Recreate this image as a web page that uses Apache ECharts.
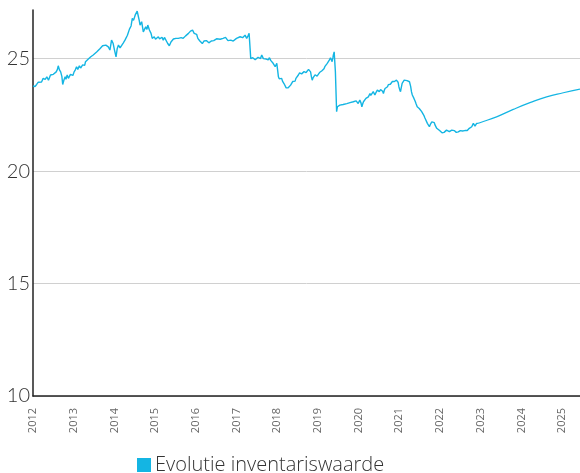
<!DOCTYPE html>
<html>
<head>
<meta charset="utf-8">
<script src="https://cdn.jsdelivr.net/npm/echarts@6/dist/echarts.min.js"></script>
<style>
  html, body { margin: 0; padding: 0; background: #fff; }
  #chart { width: 580px; height: 473px; }
</style>
</head>
<body>
<div id="chart"></div>
<script>
// Net asset value history: [decimal year, value]
const navHistory = [
  [2012.00, 23.78], [2012.05, 23.76], [2012.09, 23.85], [2012.13, 23.95], [2012.17, 24.00],
  [2012.21, 23.96], [2012.25, 24.12], [2012.30, 24.08], [2012.34, 24.19], [2012.38, 24.04],
  [2012.43, 24.27], [2012.47, 24.20], [2012.50, 24.30], [2012.54, 24.25], [2012.57, 24.41],
  [2012.60, 24.52], [2012.62, 24.68], [2012.65, 24.50], [2012.68, 24.41], [2012.71, 24.20],
  [2012.73, 23.85], [2012.76, 24.05], [2012.79, 24.19], [2012.81, 24.08], [2012.84, 24.27],
  [2012.87, 24.12], [2012.89, 24.19], [2012.92, 24.30], [2012.95, 24.34], [2012.98, 24.25],
  [2013.01, 24.41], [2013.04, 24.50], [2013.07, 24.64], [2013.10, 24.52], [2013.14, 24.68],
  [2013.17, 24.58], [2013.20, 24.64], [2013.22, 24.72], [2013.24, 24.79], [2013.27, 24.70],
  [2013.29, 24.86], [2013.33, 24.80], [2013.36, 24.98], [2013.39, 24.90], [2013.42, 25.08],
  [2013.45, 25.02], [2013.48, 25.16], [2013.52, 25.10], [2013.57, 25.30], [2013.61, 25.24],
  [2013.65, 25.45], [2013.68, 25.40], [2013.71, 25.57], [2013.75, 25.50], [2013.79, 25.60],
  [2013.82, 25.66], [2013.85, 25.52], [2013.89, 25.38], [2013.91, 25.60], [2013.93, 25.82],
  [2013.97, 25.67], [2014.00, 25.40], [2014.04, 25.08], [2014.07, 25.45], [2014.10, 25.60],
  [2014.14, 25.48], [2014.18, 25.52], [2014.22, 25.70], [2014.26, 25.82], [2014.29, 25.76],
  [2014.32, 26.04], [2014.35, 25.98], [2014.37, 26.31], [2014.41, 26.45], [2014.44, 26.79],
  [2014.47, 26.70], [2014.51, 26.93], [2014.54, 26.88], [2014.56, 27.11], [2014.59, 26.86],
  [2014.61, 26.70], [2014.63, 26.49], [2014.67, 26.64], [2014.71, 26.19], [2014.74, 26.30],
  [2014.77, 26.41], [2014.80, 26.30], [2014.82, 26.49], [2014.86, 26.27], [2014.90, 26.12],
  [2014.93, 25.90], [2014.98, 25.97], [2015.01, 25.86], [2015.04, 25.90], [2015.08, 25.97],
  [2015.11, 25.88], [2015.14, 25.90], [2015.17, 25.95], [2015.20, 25.82], [2015.23, 25.94],
  [2015.26, 25.90], [2015.31, 25.67], [2015.35, 25.57], [2015.39, 25.74], [2015.42, 25.68],
  [2015.45, 25.87], [2015.48, 25.82], [2015.51, 25.90], [2015.54, 25.85], [2015.57, 25.90],
  [2015.60, 25.96], [2015.64, 25.93], [2015.66, 25.86], [2015.69, 25.90], [2015.72, 25.96],
  [2015.75, 26.01], [2015.78, 26.08], [2015.82, 26.12], [2015.85, 26.18], [2015.87, 26.22],
  [2015.90, 26.15], [2015.92, 26.27], [2015.96, 26.12], [2016.00, 26.04], [2016.02, 26.08],
  [2016.05, 25.90], [2016.08, 25.84], [2016.10, 25.78], [2016.13, 25.72], [2016.16, 25.67],
  [2016.20, 25.78], [2016.23, 25.74], [2016.26, 25.80], [2016.29, 25.74], [2016.32, 25.70],
  [2016.35, 25.67], [2016.38, 25.78], [2016.41, 25.74], [2016.44, 25.80], [2016.47, 25.82],
  [2016.51, 25.88], [2016.55, 25.90], [2016.60, 25.86], [2016.64, 25.93], [2016.67, 25.90],
  [2016.70, 25.97], [2016.73, 25.94], [2016.76, 25.90], [2016.79, 25.80], [2016.82, 25.74],
  [2016.86, 25.82], [2016.89, 25.76], [2016.92, 25.78], [2016.96, 25.85], [2017.00, 25.90],
  [2017.04, 25.84], [2017.09, 25.97], [2017.12, 25.90], [2017.15, 25.93], [2017.18, 25.98],
  [2017.21, 26.04], [2017.25, 25.90], [2017.28, 26.00], [2017.31, 26.12], [2017.33, 26.04],
  [2017.35, 25.00], [2017.37, 24.93], [2017.40, 25.04], [2017.43, 25.00], [2017.46, 24.95],
  [2017.50, 25.00], [2017.53, 25.06], [2017.56, 25.08], [2017.59, 25.00], [2017.62, 25.16],
  [2017.66, 25.00], [2017.68, 25.06], [2017.70, 24.93], [2017.73, 24.98], [2017.76, 25.00],
  [2017.78, 24.94], [2017.81, 25.04], [2017.84, 24.92], [2017.86, 24.86], [2017.88, 24.90],
  [2017.90, 24.79], [2017.93, 24.72], [2017.95, 24.64], [2017.97, 24.70], [2017.99, 24.79],
  [2018.01, 24.50], [2018.03, 24.19], [2018.05, 24.10], [2018.07, 24.04], [2018.09, 24.16],
  [2018.11, 24.12], [2018.13, 24.00], [2018.15, 23.97], [2018.17, 23.88], [2018.19, 23.82],
  [2018.22, 23.70], [2018.25, 23.62], [2018.27, 23.70], [2018.30, 23.75], [2018.33, 23.82],
  [2018.36, 23.90], [2018.38, 23.98], [2018.41, 24.04], [2018.44, 24.00], [2018.46, 24.12],
  [2018.49, 24.20], [2018.52, 24.27], [2018.55, 24.36], [2018.58, 24.41], [2018.60, 24.32],
  [2018.63, 24.27], [2018.66, 24.42], [2018.68, 24.49], [2018.71, 24.38], [2018.74, 24.41],
  [2018.77, 24.52], [2018.79, 24.60], [2018.82, 24.41], [2018.84, 24.20], [2018.86, 24.04],
  [2018.88, 24.14], [2018.90, 24.19], [2018.93, 24.28], [2018.95, 24.34], [2018.98, 24.22],
  [2019.01, 24.27], [2019.04, 24.38], [2019.07, 24.34], [2019.10, 24.46], [2019.12, 24.41],
  [2019.15, 24.55], [2019.17, 24.64], [2019.20, 24.70], [2019.23, 24.79], [2019.26, 24.86],
  [2019.28, 24.93], [2019.31, 25.04], [2019.33, 24.95], [2019.35, 24.86], [2019.37, 25.05],
  [2019.38, 25.16], [2019.40, 25.30], [2019.43, 24.41], [2019.46, 22.64], [2019.48, 22.86],
  [2019.51, 22.90], [2019.54, 22.93], [2019.58, 22.90], [2019.62, 22.96], [2019.66, 22.94],
  [2019.71, 23.00], [2019.75, 22.97], [2019.79, 23.04], [2019.83, 23.00], [2019.87, 23.08],
  [2019.90, 23.14], [2019.94, 23.12], [2019.99, 23.00], [2020.03, 23.16], [2020.06, 23.02],
  [2020.08, 22.86], [2020.10, 22.98], [2020.12, 23.08], [2020.15, 23.16], [2020.18, 23.23],
  [2020.21, 23.18], [2020.24, 23.30], [2020.26, 23.38], [2020.28, 23.45], [2020.30, 23.36],
  [2020.32, 23.30], [2020.34, 23.42], [2020.36, 23.53], [2020.38, 23.46], [2020.40, 23.38],
  [2020.43, 23.50], [2020.46, 23.60], [2020.49, 23.55], [2020.51, 23.53], [2020.54, 23.62],
  [2020.57, 23.67], [2020.59, 23.55], [2020.61, 23.45], [2020.63, 23.58], [2020.65, 23.67],
  [2020.68, 23.70], [2020.71, 23.75], [2020.73, 23.84], [2020.75, 23.90], [2020.78, 23.86],
  [2020.81, 23.93], [2020.83, 23.98], [2020.85, 24.04], [2020.88, 23.98], [2020.90, 23.93],
  [2020.93, 24.04], [2020.95, 24.12], [2020.97, 23.95], [2020.99, 23.75], [2021.01, 23.62],
  [2021.03, 23.53], [2021.05, 23.72], [2021.07, 23.90], [2021.10, 23.96], [2021.12, 24.04],
  [2021.14, 24.08], [2021.16, 24.12], [2021.19, 24.02], [2021.21, 24.04], [2021.23, 24.00],
  [2021.25, 23.97], [2021.28, 23.75], [2021.30, 23.52], [2021.32, 23.38], [2021.34, 23.30],
  [2021.36, 23.23], [2021.39, 23.10], [2021.41, 23.00], [2021.44, 22.86], [2021.47, 22.84],
  [2021.49, 22.78], [2021.52, 22.70], [2021.55, 22.64], [2021.58, 22.56], [2021.61, 22.45],
  [2021.63, 22.36], [2021.66, 22.30], [2021.69, 22.12], [2021.72, 22.04], [2021.74, 21.97],
  [2021.77, 22.10], [2021.80, 22.19], [2021.82, 22.24], [2021.84, 22.27], [2021.86, 22.15],
  [2021.88, 22.04], [2021.90, 21.96], [2021.92, 21.90], [2021.94, 21.88], [2021.96, 21.85],
  [2021.99, 21.80], [2022.02, 21.75], [2022.05, 21.70], [2022.07, 21.67], [2022.10, 21.72],
  [2022.12, 21.75], [2022.14, 21.80], [2022.16, 21.82], [2022.19, 21.78], [2022.23, 21.75],
  [2022.26, 21.78], [2022.29, 21.82], [2022.31, 21.86], [2022.33, 21.90], [2022.35, 21.80],
  [2022.37, 21.75], [2022.40, 21.72], [2022.42, 21.71], [2022.45, 21.74], [2022.47, 21.75],
  [2022.50, 21.80], [2022.53, 21.82], [2022.55, 21.78], [2022.57, 21.75], [2022.61, 21.80],
  [2022.64, 21.82], [2022.67, 21.80], [2022.70, 21.85], [2022.72, 21.90], [2022.74, 21.94],
  [2022.76, 21.92], [2022.78, 21.97], [2022.80, 22.05], [2022.82, 22.12], [2022.84, 22.04],
  [2022.86, 22.00], [2022.88, 22.08], [2022.90, 22.12], [2022.92, 22.08], [2022.94, 22.12]
];

// Projected path after the last published value: [decimal year, value]
const navProjection = [
  [2022.94, 22.12], [2022.98, 22.15], [2023.39, 22.41], [2023.80, 22.74],
  [2024.21, 23.04], [2024.62, 23.30], [2025.03, 23.48], [2025.44, 23.64]
];

const yTicks = [10, 15, 20, 25];
const seriesName = 'Evolutie inventariswaarde';
const lineColor = '#14b5e3';

const chart = echarts.init(document.getElementById('chart'), null, { renderer: 'canvas' });

chart.setOption({
  animation: false,
  grid: { left: 33, right: 0, top: 10, bottom: 77, containLabel: false },
  legend: {
    data: [{ name: seriesName, icon: 'rect' }],
    left: 137,
    top: 455,
    padding: 0,
    itemWidth: 14,
    itemHeight: 14,
    itemGap: 4,
    textStyle: { fontFamily: 'Open Sans', fontWeight: 300, fontSize: 20, color: '#333', padding: [0, 0, 0, -1] }
  },
  xAxis: {
    type: 'value',
    min: 2012,
    max: 2025.44,
    interval: 1,
    axisLine: { show: true, onZero: false, lineStyle: { color: '#222', width: 1.5 } },
    axisTick: { show: false },
    splitLine: { show: false },
    axisLabel: {
      rotate: 90,
      margin: 12,
      fontSize: 11,
      fontFamily: 'Open Sans',
      color: '#666',
      showMaxLabel: false,
      formatter: v => String(Math.round(v))
    }
  },
  yAxis: {
    type: 'value',
    min: yTicks[0],
    max: 27.16,
    interval: 5,
    axisLine: { show: true, lineStyle: { color: '#222', width: 1.5 } },
    axisTick: { show: false },
    splitLine: {
      show: true,
      lineStyle: { color: ['#d0d0d0', '#d0d0d0', '#d0d0d0', '#d0d0d0', 'rgba(0,0,0,0)'], width: 1 }
    },
    axisLabel: {
      margin: 3,
      fontSize: 20,
      fontFamily: 'Lato',
      fontWeight: 300,
      color: '#333',
      showMaxLabel: false,
      formatter: v => (yTicks.indexOf(v) >= 0 ? String(v) : '')
    }
  },
  series: [
    {
      name: seriesName,
      type: 'line',
      data: navHistory,
      showSymbol: false,
      symbol: 'none',
      lineStyle: { color: lineColor, width: 1.4 },
      itemStyle: { color: lineColor }
    },
    {
      name: seriesName,
      type: 'line',
      data: navProjection,
      smooth: true,
      showSymbol: false,
      symbol: 'none',
      lineStyle: { color: lineColor, width: 1.2 },
      itemStyle: { color: lineColor }
    }
  ]
});
</script>
</body>
</html>
